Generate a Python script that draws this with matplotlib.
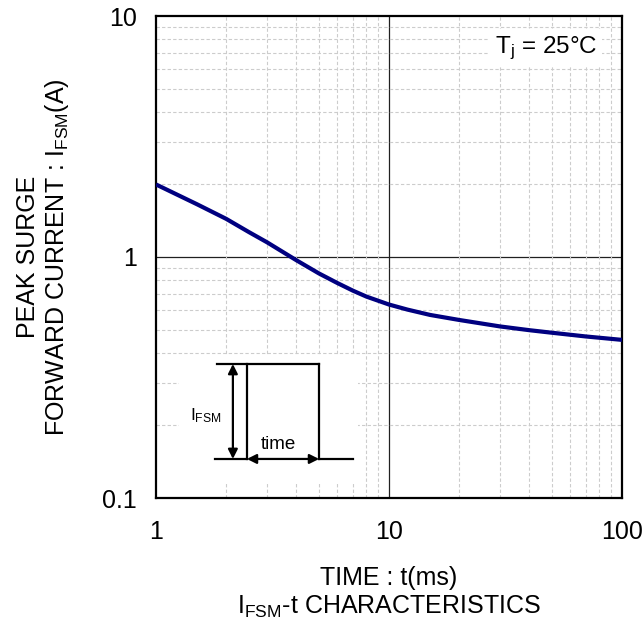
import numpy as np
import matplotlib
matplotlib.use('Agg')
import matplotlib.pyplot as plt
from matplotlib.patches import Rectangle

plt.rcParams['font.family'] = ['Liberation Sans', 'DejaVu Sans']
plt.rcParams['mathtext.fontset'] = 'custom'
plt.rcParams['mathtext.rm'] = 'Liberation Sans'
plt.rcParams['mathtext.it'] = 'Liberation Sans:italic'
plt.rcParams['mathtext.default'] = 'regular'

# values
time_ms = [1, 1.5, 2, 2.5, 3, 4, 5, 6, 7, 8, 10, 12, 15, 20, 30, 40, 50, 70, 100]
i_fsm = [2.0, 1.655, 1.44, 1.27, 1.15, 0.97, 0.855, 0.78, 0.725, 0.685, 0.635,
         0.605, 0.575, 0.548, 0.515, 0.497, 0.485, 0.468, 0.453]

x_ticks = [1, 10, 100]
x_ticklabels = ['1', '10', '100']
y_ticks = [0.1, 1, 10]
y_ticklabels = ['0.1', '1', '10']

fig = plt.figure(figsize=(6.44, 6.24), dpi=100)
ax = fig.add_axes([156 / 644, 126 / 624, 466 / 644, 482 / 624])

ax.set_xscale('log')
ax.set_yscale('log')
ax.set_xlim(1, 100)
ax.set_ylim(0.1, 10)

# grid: dashed minor, solid major at the middle decades
ax.grid(which='minor', color='#cccccc', linestyle=(0, (3, 2)), linewidth=0.8)
ax.axvline(10, color='#202020', linewidth=0.9, zorder=1)
ax.axhline(1, color='#202020', linewidth=0.9, zorder=1)

ax.plot(time_ms, i_fsm, color='#000080', linewidth=3, zorder=4,
        solid_capstyle='butt', solid_joinstyle='round')

ax.set_xticks(x_ticks)
ax.set_xticklabels(x_ticklabels)
ax.set_yticks(y_ticks)
ax.set_yticklabels(y_ticklabels)
ax.tick_params(which='both', length=0, labelsize=18)
ax.tick_params(axis='x', pad=16)
ax.tick_params(axis='y', pad=14)

for s in ax.spines.values():
    s.set_linewidth(1.6)

ax.set_xlabel('TIME : t(ms)\nI$_{FSM}$-t CHARACTERISTICS', fontsize=18, labelpad=16, linespacing=1.15)
ax.set_ylabel('PEAK SURGE\nFORWARD CURRENT : I$_{FSM}$(A)', fontsize=18, labelpad=22, linespacing=1.15)

ax.text(0.946, 0.934, 'T$_j$ = 25°C', transform=ax.transAxes, fontsize=17.5,
        ha='right', va='center', zorder=5,
        bbox=dict(facecolor='white', edgecolor='none', pad=4))

# inset pulse sketch
T = ax.transAxes
ax.add_patch(Rectangle((0.049, 0.031), 0.384, 0.266, transform=T, facecolor='white',
                       edgecolor='none', zorder=2))
lk = dict(transform=T, color='black', linewidth=1.6, zorder=3)
ax.plot([0.131, 0.350], [0.278, 0.278], **lk)
ax.plot([0.195, 0.195], [0.081, 0.278], **lk)
ax.plot([0.350, 0.350], [0.081, 0.278], **lk)
ax.plot([0.127, 0.195], [0.081, 0.081], **lk)
ax.plot([0.350, 0.423], [0.081, 0.081], **lk)
ak = dict(arrowstyle='<|-|>', color='black', linewidth=1.6, mutation_scale=14,
          shrinkA=0, shrinkB=0)
ax.annotate('', xy=(0.165, 0.081), xytext=(0.165, 0.278), xycoords=T, textcoords=T,
            arrowprops=ak, zorder=3)
ax.annotate('', xy=(0.195, 0.081), xytext=(0.350, 0.081), xycoords=T, textcoords=T,
            arrowprops=ak, zorder=3)
ax.text(0.073, 0.170, 'I$_{FSM}$', transform=T, fontsize=12.5, ha='left', va='center', zorder=3)
ax.text(0.262, 0.112, 'time', transform=T, fontsize=13.5, ha='center', va='center', zorder=3)

fig.savefig('out.png', dpi=100)
